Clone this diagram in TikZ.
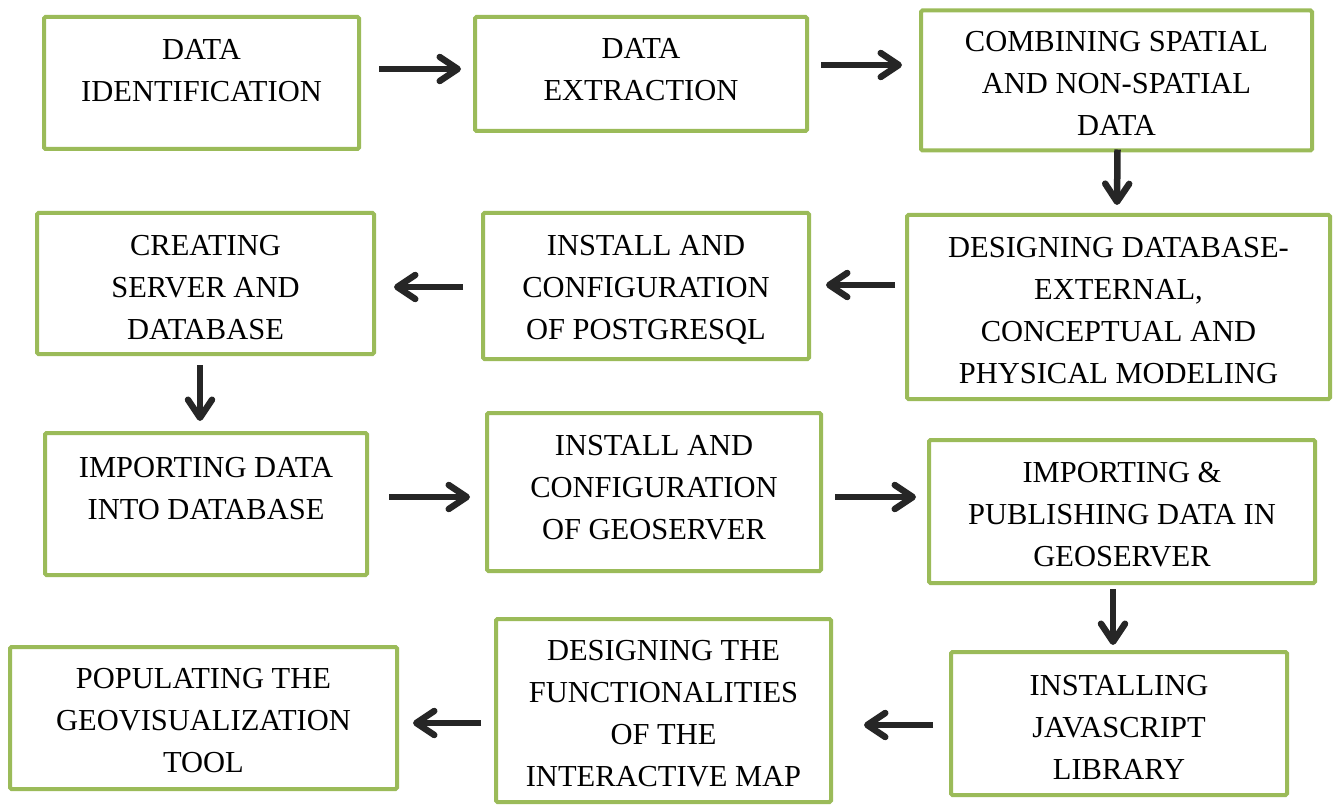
\documentclass[tikz,border=0pt]{standalone}
\usepackage{fontspec}
\setmainfont{Liberation Serif}
\usetikzlibrary{arrows.meta}

\definecolor{boxgreen}{HTML}{9BBB59}
\definecolor{arrowgray}{HTML}{262626}

\tikzset{
  stepbox/.style={draw=boxgreen, line width=4pt, rectangle, rounded corners=1.5pt,
    inner sep=0pt, fill=white},
  steptext/.style={anchor=north, inner sep=0pt, align=center, text=black,
    font=\fontsize{30.5}{42}\selectfont},
  flow/.style={draw=arrowgray, line width=6.5pt,
    -{Straight Barb[length=18pt, width=24pt, line cap=round, line join=round]}},
}

\begin{document}
\begin{tikzpicture}[x=1pt, y=-1pt]
\useasboundingbox (0,0) rectangle (1333,805);

% process steps (centre, size without the border)
\node[stepbox, minimum width=315pt, minimum height=132pt] (b1)  at (201.5,83)   {};
\node[stepbox, minimum width=332pt, minimum height=114pt] (b2)  at (641,74)     {};
\node[stepbox, minimum width=391pt, minimum height=140pt] (b3)  at (1116.5,80.5) {};
\node[stepbox, minimum width=337pt, minimum height=141pt] (b4)  at (205.5,283.5) {};
\node[stepbox, minimum width=326pt, minimum height=146pt] (b5)  at (646,286)    {};
\node[stepbox, minimum width=423pt, minimum height=184pt] (b6)  at (1118.5,307) {};
\node[stepbox, minimum width=322pt, minimum height=142pt] (b7)  at (206,504)    {};
\node[stepbox, minimum width=334pt, minimum height=158pt] (b8)  at (654,492)    {};
\node[stepbox, minimum width=386pt, minimum height=143pt] (b9)  at (1122,511.5) {};
\node[stepbox, minimum width=336pt, minimum height=143pt] (b10) at (1119,723.5) {};
\node[stepbox, minimum width=335pt, minimum height=183pt] (b11) at (663.5,710.5) {};
\node[stepbox, minimum width=387pt, minimum height=142pt] (b12) at (203.5,718)  {};

% step labels
\node[steptext] (t1)  at ([yshift=-24pt]b1.north)  {DATA\\IDENTIFICATION};
\node[steptext] (t2)  at ([yshift=-23pt]b2.north)  {DATA\\EXTRACTION};
\node[steptext] (t3)  at ([yshift=-23pt]b3.north)  {COMBINING SPATIAL\\AND NON-SPATIAL\\DATA};
\node[steptext] (t4)  at ([yshift=-24pt]b4.north)  {CREATING\\SERVER AND\\DATABASE};
\node[steptext] (t5)  at ([yshift=-24pt]b5.north)  {INSTALL AND\\CONFIGURATION\\OF POSTGRESQL};
\node[steptext] (t6)  at ([yshift=-24pt]b6.north)  {DESIGNING DATABASE-\\EXTERNAL,\\CONCEPTUAL AND\\PHYSICAL MODELING};
\node[steptext] (t7)  at ([yshift=-26pt]b7.north)  {IMPORTING DATA\\INTO DATABASE};
\node[steptext] (t8)  at ([yshift=-24pt]b8.north)  {INSTALL AND\\CONFIGURATION\\OF GEOSERVER};
\node[steptext] (t9)  at ([yshift=-24pt]b9.north)  {IMPORTING \&\\PUBLISHING DATA IN\\GEOSERVER};
\node[steptext] (t10) at ([yshift=-25pt]b10.north) {INSTALLING\\JAVASCRIPT\\LIBRARY};
\node[steptext] (t11) at ([yshift=-23pt]b11.north) {DESIGNING THE\\FUNCTIONALITIES\\OF THE\\INTERACTIVE MAP};
\node[steptext] (t12) at ([yshift=-23pt]b12.north) {POPULATING THE\\GEOVISUALIZATION\\TOOL};

% flow between the steps
\draw[flow] ([shift={(18,-14)}]b1.east)   -- ([shift={(-12,-5)}]b2.west);
\draw[flow] ([shift={(12,-9)}]b2.east)    -- ([shift={(-17,-15.5)}]b3.west);
\draw[flow] ([shift={(1,-3)}]b3.south)    -- ([shift={(-1.5,-8)}]b6.north);
\draw[flow] ([shift={(-10,-22)}]b6.west)  -- ([shift={(15,-1)}]b5.east);
\draw[flow] ([shift={(-18,1)}]b5.west)    -- ([shift={(18,3.5)}]b4.east);
\draw[flow] ([shift={(-5.5,9)}]b4.south)  -- ([shift={(-6,-10)}]b7.north);
\draw[flow] ([shift={(20,-7)}]b7.east)    -- ([shift={(-15,5)}]b8.west);
\draw[flow] ([shift={(12,5)}]b8.east)     -- ([shift={(-11,-14.5)}]b9.west);
\draw[flow] ([shift={(-9,4)}]b9.south)    -- ([shift={(-6,-5)}]b10.north);
\draw[flow] ([shift={(-16,1.5)}]b10.west) -- ([shift={(31,14.5)}]b11.east);
\draw[flow] ([shift={(-13,12.5)}]b11.west) -- ([shift={(14,5)}]b12.east);
\end{tikzpicture}
\end{document}
